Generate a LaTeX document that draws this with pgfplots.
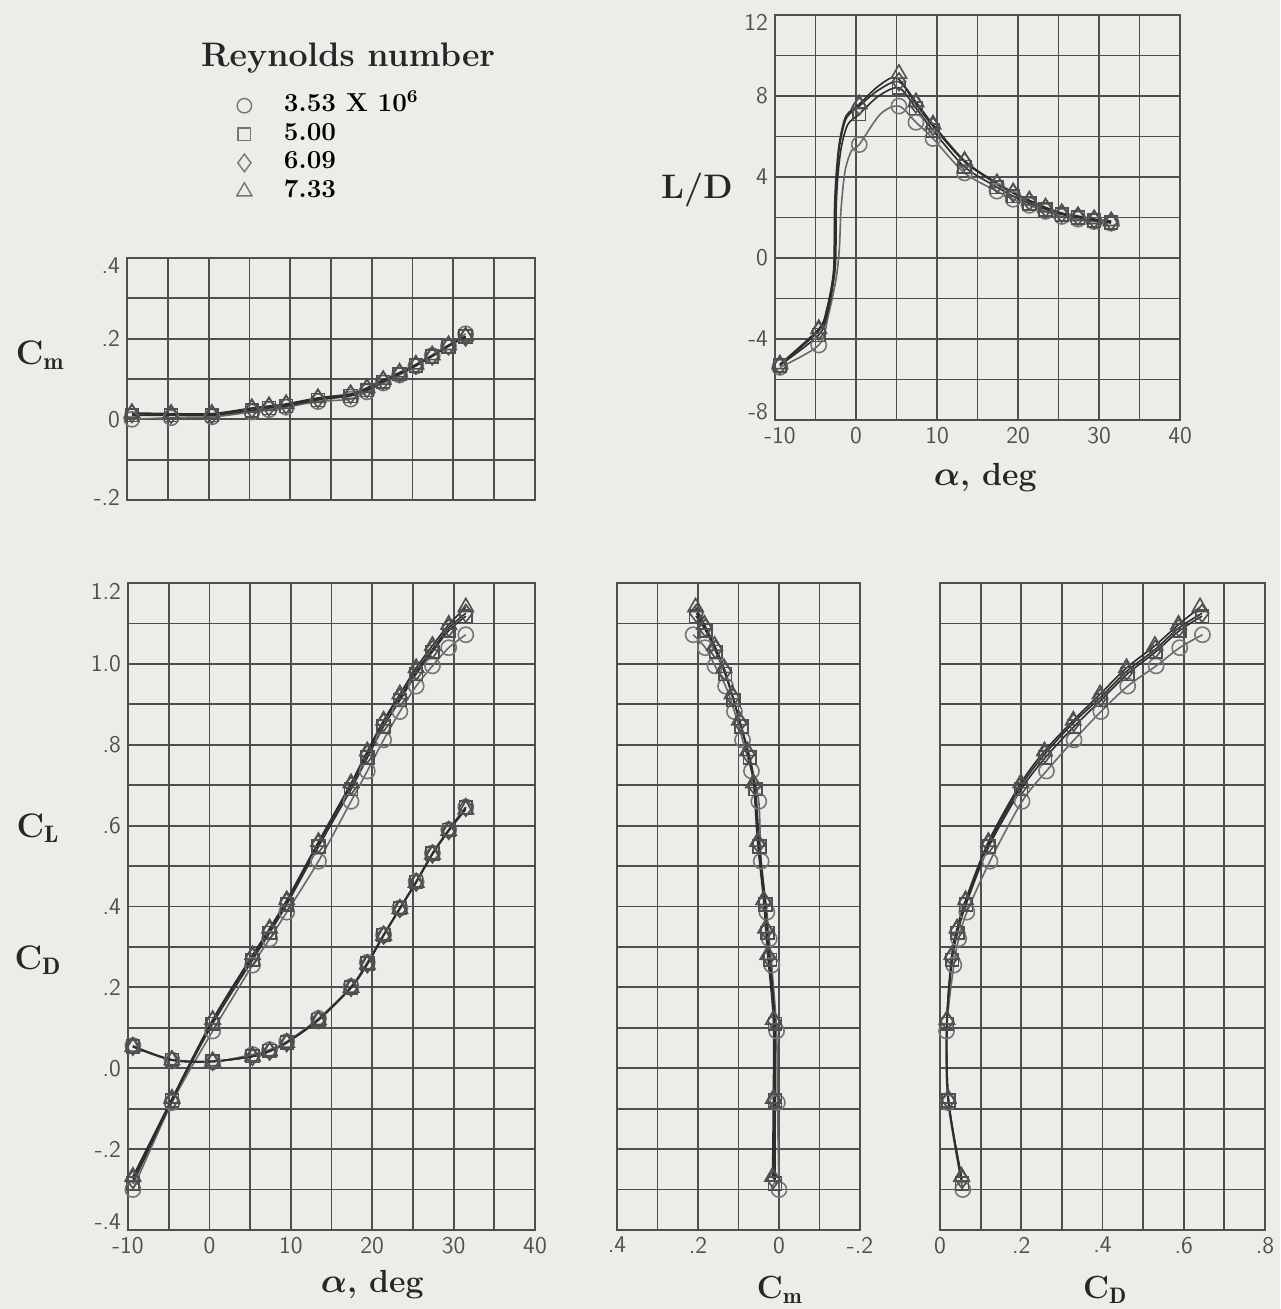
\documentclass[border=0pt]{standalone}
\usepackage{fontspec}
\usepackage{pgfplots}
\pgfplotsset{compat=1.18}
\usepackage{pgfplotstable}
\definecolor{paper}{RGB}{236,236,232}
\definecolor{gridc}{RGB}{78,78,78}
\definecolor{tickc}{RGB}{80,80,80}
\definecolor{markA}{RGB}{118,118,118}
\definecolor{markB}{RGB}{80,80,80}
\definecolor{lineA}{RGB}{105,105,105}
\definecolor{lineB}{RGB}{45,45,45}

% Re = 3.53e6 (circle)
\pgfplotstableread{
a cl cd cm ld
-9.4 -0.300 0.056 0.000 -5.40
-4.6 -0.085 0.020 0.004 -4.30
0.4 0.092 0.016 0.006 5.60
5.3 0.255 0.034 0.018 7.50
7.4 0.320 0.046 0.024 6.70
9.5 0.386 0.066 0.030 5.90
13.4 0.512 0.123 0.044 4.20
17.4 0.660 0.202 0.050 3.30
19.4 0.735 0.262 0.068 2.90
21.4 0.812 0.330 0.090 2.60
23.4 0.882 0.396 0.110 2.30
25.4 0.945 0.462 0.132 2.05
27.4 0.995 0.532 0.158 1.92
29.4 1.040 0.590 0.182 1.80
31.5 1.072 0.646 0.212 1.72
}\reA
% Re = 5.00e6 (square)
\pgfplotstableread{
a cl cd cm ld
-9.4 -0.285 0.054 0.010 -5.30
-4.6 -0.080 0.021 0.010 -3.80
0.4 0.110 0.017 0.010 7.10
5.3 0.268 0.030 0.022 8.40
7.4 0.335 0.043 0.028 7.40
9.5 0.405 0.064 0.033 6.30
13.4 0.548 0.120 0.048 4.50
17.4 0.690 0.200 0.058 3.50
19.4 0.768 0.259 0.072 3.05
21.4 0.845 0.330 0.093 2.70
23.4 0.910 0.396 0.112 2.40
25.4 0.975 0.461 0.133 2.15
27.4 1.030 0.531 0.156 2.00
29.4 1.082 0.589 0.181 1.85
31.5 1.118 0.645 0.205 1.75
}\reB
% Re = 6.09e6 (diamond)
\pgfplotstableread{
a cl cd cm ld
-9.4 -0.275 0.054 0.014 -5.30
-4.6 -0.079 0.021 0.012 -3.60
0.4 0.117 0.017 0.012 7.50
5.3 0.275 0.029 0.026 8.70
7.4 0.341 0.042 0.031 7.60
9.5 0.411 0.063 0.036 6.50
13.4 0.555 0.120 0.051 4.75
17.4 0.699 0.200 0.061 3.65
19.4 0.777 0.258 0.076 3.20
21.4 0.855 0.329 0.096 2.80
23.4 0.917 0.395 0.114 2.47
25.4 0.982 0.460 0.134 2.20
27.4 1.036 0.530 0.157 2.05
29.4 1.089 0.588 0.182 1.90
31.5 1.125 0.645 0.204 1.80
}\reC
% Re = 7.33e6 (triangle)
\pgfplotstableread{
a cl cd cm ld
-9.4 -0.268 0.053 0.016 -5.25
-4.6 -0.075 0.020 0.014 -3.50
0.4 0.120 0.017 0.014 7.60
5.3 0.280 0.029 0.028 9.10
7.4 0.346 0.042 0.033 7.70
9.5 0.416 0.063 0.038 6.60
13.4 0.560 0.119 0.053 4.80
17.4 0.705 0.199 0.063 3.70
19.4 0.784 0.257 0.078 3.25
21.4 0.860 0.328 0.098 2.85
23.4 0.925 0.394 0.116 2.50
25.4 0.990 0.459 0.136 2.22
27.4 1.045 0.529 0.159 2.07
29.4 1.097 0.587 0.184 1.92
31.5 1.140 0.640 0.206 1.82
}\reD
% faired L/D curves
\pgfplotstableread{
a ld
-9.4 -5.40
-4.6 -4.30
-3.4 -2.80
-2.45 -1.00
-2.05 0.50
-1.85 2.40
-1.35 4.30
-0.55 5.30
0.4 5.60
3.0 7.10
5.3 7.50
7.4 6.70
9.5 5.90
13.4 4.20
17.4 3.30
19.4 2.90
21.4 2.60
23.4 2.30
25.4 2.05
27.4 1.92
29.4 1.80
31.5 1.72
}\fA
\pgfplotstableread{
a ld
-9.4 -5.30
-4.6 -3.80
-3.5 -2.70
-2.75 -1.10
-2.5 0.00
-2.45 2.40
-2.25 4.00
-1.8 5.50
-1.0 6.60
0.4 7.10
2.8 8.00
5.3 8.40
7.4 7.40
9.5 6.30
13.4 4.50
17.4 3.50
19.4 3.05
21.4 2.70
23.4 2.40
25.4 2.15
27.4 2.00
29.4 1.85
31.5 1.75
}\fB
\pgfplotstableread{
a ld
-9.4 -5.30
-4.6 -3.60
-3.6 -2.60
-2.9 -1.20
-2.65 0.00
-2.6 2.40
-2.4 4.00
-2.0 5.60
-1.2 6.90
0.4 7.50
2.8 8.30
5.3 8.70
7.4 7.60
9.5 6.50
13.4 4.75
17.4 3.65
19.4 3.20
21.4 2.80
23.4 2.47
25.4 2.20
27.4 2.05
29.4 1.90
31.5 1.80
}\fC
\pgfplotstableread{
a ld
-9.4 -5.25
-4.6 -3.50
-3.6 -2.50
-2.9 -1.10
-2.7 0.00
-2.65 2.40
-2.45 4.10
-2.05 5.70
-1.25 7.00
0.4 7.60
2.8 8.50
5.0 8.90
7.4 7.70
9.5 6.60
13.4 4.80
17.4 3.70
19.4 3.25
21.4 2.85
23.4 2.50
25.4 2.22
27.4 2.07
29.4 1.92
31.5 1.82
}\fD

\newcommand{\up}[2]{\raisebox{#1}[\height][\depth]{#2}}

\pgfplotsset{
  panel/.style={scale only axis, clip=false, grid=major,
    major grid style={line width=0.9pt, draw=gridc},
    axis line style={line width=0.9pt, draw=gridc},
    major tick length=0pt,
    tick label style={font=\sffamily\fontsize{12}{12}\selectfont, text=tickc}},
  sA/.style={mark=o, mark size=3.8pt, draw=lineA, line width=0.8pt,
    mark options={draw=markA, line width=0.8pt, fill=none, solid}},
  sB/.style={mark=square, mark size=3.2pt, draw=lineB, line width=0.8pt,
    mark options={draw=markB, line width=0.8pt, fill=none, solid}},
  sC/.style={mark=diamond, mark size=4.4pt, draw=lineB, line width=0.8pt,
    mark options={draw=markB, line width=0.8pt, fill=none, solid}},
  sD/.style={mark=triangle, mark size=4.4pt, draw=lineB, line width=0.8pt,
    mark options={draw=markB, line width=0.8pt, fill=none, solid}},
}
\tikzset{
  lab/.style={font=\bfseries\fontsize{17}{17}\selectfont, text=black!85},
  xlab/.style={font=\bfseries\fontsize{16}{16}\selectfont, text=black!85},
}

\begin{document}
\begin{tikzpicture}
\fill[paper] (0pt,0pt) rectangle (640pt,654.5pt);
\useasboundingbox (0pt,0pt) rectangle (640pt,654.5pt);

% ---------- Cm vs alpha ----------
\begin{axis}[panel, at={(63.5pt,525.5pt)}, anchor=north west,
  width=204pt, height=121pt,
  xmin=-10, xmax=40, ymin=-0.2, ymax=0.4,
  xtick={-10,-5,0,5,10,15,20,25,30,35,40},
  xticklabels={,,,,,,,,,,},
  ytick={-0.2,-0.1,0,0.1,0.2,0.3,0.4},
  yticklabels={\up{1.5pt}{-.2},,0,,.2,,\up{-4pt}{.4}},
  legend cell align=left,
  legend style={at={(axis description cs:0.268,1.69)}, anchor=north west,
    draw=none, fill=none, inner sep=0pt, row sep=0pt,
    font=\bfseries\fontsize{13}{13}\selectfont,
    nodes={inner sep=0pt, text height=10pt, text depth=4.3pt},
    /tikz/every odd column/.append style={column sep=16pt}},
  ]
\addlegendimage{only marks, mark=o, mark size=3.6pt, mark options={draw=markA, line width=0.7pt}}
\addlegendentry{3.53 X 10\textsuperscript{6}}
\addlegendimage{only marks, mark=square, mark size=3.2pt, mark options={draw=markA, line width=0.7pt}}
\addlegendentry{5.00}
\addlegendimage{only marks, mark=diamond, mark size=4.4pt, mark options={draw=markA, line width=0.7pt}}
\addlegendentry{6.09}
\addlegendimage{only marks, mark=triangle, mark size=4.4pt, mark options={draw=markA, line width=0.7pt}}
\addlegendentry{7.33}
\addplot[sA, smooth] table[x=a, y=cm] {\reA};
\addplot[sB, smooth] table[x=a, y=cm] {\reB};
\addplot[sC, smooth] table[x=a, y=cm] {\reC};
\addplot[sD, smooth] table[x=a, y=cm] {\reD};
\node[lab] at (axis description cs:-0.213,0.60) {C$_{\mathbf{m}}$};
\node[font=\bfseries\fontsize{17}{17}\selectfont, text=black!85] at (axis description cs:0.542,1.826) {Reynolds number};
\end{axis}

% ---------- L/D vs alpha ----------
\begin{axis}[panel, at={(387.5pt,647pt)}, anchor=north west,
  width=202.5pt, height=202.5pt,
  xmin=-10, xmax=40, ymin=-8, ymax=12,
  xtick={-10,-5,0,5,10,15,20,25,30,35,40},
  xticklabels={\hspace*{5pt}-10,,0,,10,,20,,30,,40},
  ytick={-8,-6,-4,-2,0,2,4,6,8,10,12},
  yticklabels={\up{4pt}{-8},,-4,,0,,4,,8,,\up{-3.5pt}{12}},
  ]
\addplot[smooth, tension=0.5, draw=lineA, line width=0.8pt, no marks] table[x=a, y=ld] {\fA};
\addplot[smooth, tension=0.5, draw=lineB, line width=0.8pt, no marks] table[x=a, y=ld] {\fB};
\addplot[smooth, tension=0.5, draw=lineB, line width=0.8pt, no marks] table[x=a, y=ld] {\fC};
\addplot[smooth, tension=0.5, draw=lineB, line width=0.8pt, no marks] table[x=a, y=ld] {\fD};
\addplot[sA, only marks] table[x=a, y=ld] {\reA};
\addplot[sB, only marks] table[x=a, y=ld] {\reB};
\addplot[sC, only marks] table[x=a, y=ld] {\reC};
\addplot[sD, only marks] table[x=a, y=ld] {\reD};
\node[lab] at (axis description cs:-0.193,0.568) {L/D};
\node[xlab] at (axis description cs:0.519,-0.143) {{\boldmath$\alpha$}, deg};
\end{axis}

% ---------- CL, CD vs alpha ----------
\begin{axis}[panel, at={(64pt,363pt)}, anchor=north west,
  width=203.5pt, height=323.5pt,
  xmin=-10, xmax=40, ymin=-0.4, ymax=1.2,
  xtick={-10,-5,0,5,10,15,20,25,30,35,40},
  xticklabels={-10,,0,,10,,20,,30,,40},
  ytick={-0.4,-0.3,-0.2,-0.1,0,0.1,0.2,0.3,0.4,0.5,0.6,0.7,0.8,0.9,1.0,1.1,1.2},
  yticklabels={\up{4pt}{-.4},,-.2,,.0,,.2,,.4,,.6,,.8,,1.0,,\up{-4pt}{1.2}},
  ]
\addplot[sA, smooth] table[x=a, y=cl] {\reA};
\addplot[sB, smooth] table[x=a, y=cl] {\reB};
\addplot[sC, smooth] table[x=a, y=cl] {\reC};
\addplot[sD, smooth] table[x=a, y=cl] {\reD};
\addplot[sA, smooth] table[x=a, y=cd] {\reA};
\addplot[sB, smooth] table[x=a, y=cd] {\reB};
\addplot[sC, smooth] table[x=a, y=cd] {\reC};
\addplot[sD, smooth] table[x=a, y=cd] {\reD};
\node[lab] at (axis description cs:-0.221,0.621) {C$_{\mathbf{L}}$};
\node[lab] at (axis description cs:-0.221,0.417) {C$_{\mathbf{D}}$};
\node[xlab] at (axis description cs:0.6,-0.085) {{\boldmath$\alpha$}, deg};
\end{axis}

% ---------- CL vs Cm ----------
\begin{axis}[panel, at={(308.5pt,363pt)}, anchor=north west,
  width=121.5pt, height=323.5pt, x dir=reverse,
  xmin=-0.2, xmax=0.4, ymin=-0.4, ymax=1.2,
  xtick={-0.2,-0.1,0,0.1,0.2,0.3,0.4},
  xticklabels={-.2,,0,,.2,,.4},
  ytick={-0.4,-0.3,-0.2,-0.1,0,0.1,0.2,0.3,0.4,0.5,0.6,0.7,0.8,0.9,1.0,1.1,1.2},
  yticklabels={,,,,,,,,,,,,,,,,},
  ]
\addplot[sA, smooth] table[x=cm, y=cl] {\reA};
\addplot[sB, smooth] table[x=cm, y=cl] {\reB};
\addplot[sC, smooth] table[x=cm, y=cl] {\reC};
\addplot[sD, smooth] table[x=cm, y=cl] {\reD};
\node[xlab] at (axis description cs:0.67,-0.093) {C$_{\mathbf{m}}$};
\end{axis}

% ---------- CL vs CD ----------
\begin{axis}[panel, at={(470pt,363pt)}, anchor=north west,
  width=162.5pt, height=323.5pt,
  xmin=0, xmax=0.8, ymin=-0.4, ymax=1.2,
  xtick={0,0.1,0.2,0.3,0.4,0.5,0.6,0.7,0.8},
  xticklabels={0,,.2,,.4,,.6,,.8},
  ytick={-0.4,-0.3,-0.2,-0.1,0,0.1,0.2,0.3,0.4,0.5,0.6,0.7,0.8,0.9,1.0,1.1,1.2},
  yticklabels={,,,,,,,,,,,,,,,,},
  ]
\addplot[sA, smooth] table[x=cd, y=cl] {\reA};
\addplot[sB, smooth] table[x=cd, y=cl] {\reB};
\addplot[sC, smooth] table[x=cd, y=cl] {\reC};
\addplot[sD, smooth] table[x=cd, y=cl] {\reD};
\node[xlab] at (axis description cs:0.508,-0.093) {C$_{\mathbf{D}}$};
\end{axis}
\end{tikzpicture}
\end{document}
